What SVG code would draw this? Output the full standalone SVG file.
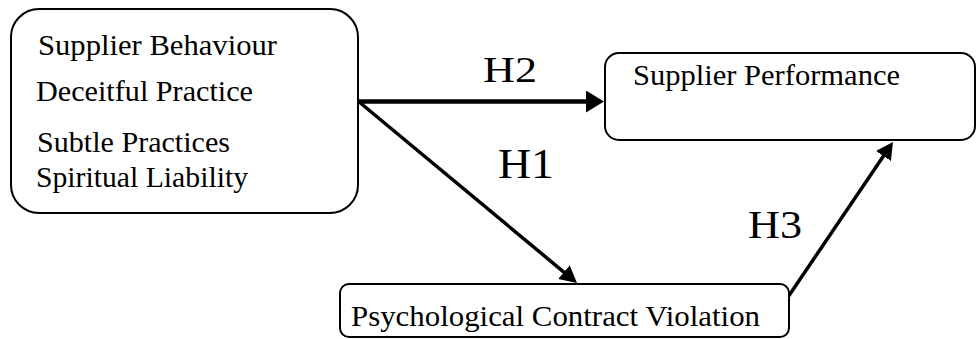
<svg xmlns="http://www.w3.org/2000/svg" width="977" height="339" viewBox="0 0 977 339">
<style>
.box{fill:#fff;stroke:#000;stroke-width:2}
.t{font-family:"Liberation Serif","Times New Roman",serif;font-size:29px;fill:#000}
.h{font-family:"Liberation Serif","Times New Roman",serif;fill:#000}
.c{stroke:#000;fill:none}
</style>
<defs>
<marker id="ahBig" markerUnits="userSpaceOnUse" markerWidth="20" markerHeight="22" refX="1" refY="11" orient="auto" viewBox="0 0 20 22">
<path d="M0,0 L18,11 L0,22 z" fill="#000"/>
</marker>
<marker id="ah" markerUnits="userSpaceOnUse" markerWidth="18" markerHeight="20" refX="1" refY="9" orient="auto" viewBox="0 0 18 18">
<path d="M0,0 L17,9 L0,18 z" fill="#000"/>
</marker>
</defs>
<rect width="977" height="339" fill="#fff"/>
<g id="connectors">
<line class="c" x1="358" y1="101.5" x2="587" y2="101.5" stroke-width="4.5" marker-end="url(#ahBig)"/>
<line class="c" x1="358" y1="101" x2="564.7" y2="272.8" stroke-width="3.5" marker-end="url(#ah)"/>
<line class="c" x1="788" y1="297" x2="884" y2="155.2" stroke-width="3.5" marker-end="url(#ah)"/>
<text class="h" x="483" y="82" font-size="35" textLength="54" lengthAdjust="spacingAndGlyphs">H2</text>
<text class="h" x="498" y="178" font-size="43" textLength="56" lengthAdjust="spacingAndGlyphs">H1</text>
<text class="h" x="748" y="238" font-size="40" textLength="54" lengthAdjust="spacingAndGlyphs">H3</text>
</g>
<g id="supplier-behaviour">
<rect class="box" x="11" y="9" width="347" height="204" rx="28"/>
<text class="t" x="38" y="55" textLength="239" lengthAdjust="spacingAndGlyphs">Supplier Behaviour</text>
<text class="t" x="36" y="101" textLength="217" lengthAdjust="spacingAndGlyphs">Deceitful Practice</text>
<text class="t" x="37" y="152" textLength="193" lengthAdjust="spacingAndGlyphs">Subtle Practices</text>
<text class="t" x="36" y="187" textLength="212" lengthAdjust="spacingAndGlyphs">Spiritual Liability</text>
</g>
<g id="supplier-performance">
<rect class="box" x="605" y="53" width="370" height="87" rx="14"/>
<text class="t" x="633" y="85" textLength="267" lengthAdjust="spacingAndGlyphs">Supplier Performance</text>
</g>
<g id="psychological-contract-violation">
<rect class="box" x="340" y="284" width="449" height="53" rx="9"/>
<text class="t" x="351" y="326" textLength="409" lengthAdjust="spacingAndGlyphs">Psychological Contract Violation</text>
</g>
</svg>
